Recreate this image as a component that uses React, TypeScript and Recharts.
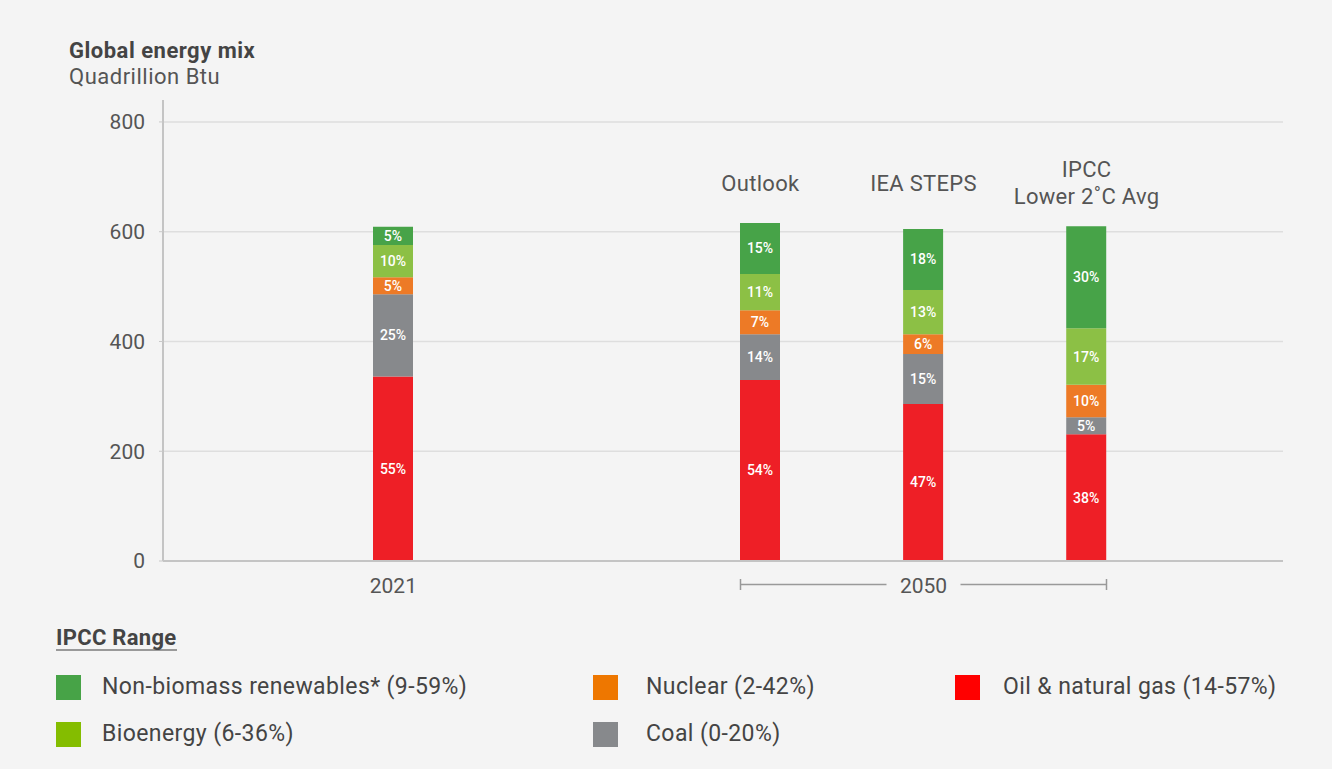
import React from "react";
import { BarChart, Bar, XAxis, YAxis, CartesianGrid, LabelList } from "recharts";

// ---- data ----
const scenarios = ["2021", "Outlook", "IEA STEPS", "IPCC Lower 2˚C Avg"];
const scenarioTitles: string[][] = [[], ["Outlook"], ["IEA STEPS"], ["IPCC", "Lower 2˚C Avg"]];
const periodLabels = ["2021", "", "2050", ""];

const oilGas = [336, 330, 286, 231];
const coal = [150, 83, 91, 31];
const nuclear = [31, 44, 36, 59];
const bioenergy = [59, 66, 81, 103];
const renewables = [33, 93, 111, 186];

const oilGasPct = ["55%", "54%", "47%", "38%"];
const coalPct = ["25%", "14%", "15%", "5%"];
const nuclearPct = ["5%", "7%", "6%", "10%"];
const bioPct = ["10%", "11%", "13%", "17%"];
const renewPct = ["5%", "15%", "18%", "30%"];

const yTicks = [0, 200, 400, 600, 800];

const legendLabels = [
  "Non-biomass renewables* (9-59%)",
  "Bioenergy (6-36%)",
  "Nuclear (2-42%)",
  "Coal (0-20%)",
  "Oil & natural gas (14-57%)",
];

// ---- styles / layout ----
const BAR_COLORS = {
  oilGas: "#ee1f26",
  coal: "#87898c",
  nuclear: "#ed7a26",
  bio: "#8cc045",
  renew: "#47a348",
};
const LEGEND_COLORS = ["#47a347", "#84bd00", "#ee7700", "#87898c", "#ff0000"];
const LEGEND_POS = [
  { left: 56, top: 675, textLeft: 102 },
  { left: 56, top: 722, textLeft: 102 },
  { left: 593, top: 675, textLeft: 646 },
  { left: 593, top: 722, textLeft: 646 },
  { left: 955, top: 675, textLeft: 1003 },
];

// slot index of each scenario on the category axis (layout only)
const SLOTS = [0, 9, 13, 17];
const SLOT_COUNT = 18;

const data = Array.from({ length: SLOT_COUNT }, (_, i) => {
  const k = SLOTS.indexOf(i);
  if (k < 0) return { slot: "", k: -1 } as any;
  return {
    slot: scenarios[k],
    k,
    oilGas: oilGas[k],
    coal: coal[k],
    nuclear: nuclear[k],
    bio: bioenergy[k],
    renew: renewables[k],
    oilGasPct: oilGasPct[k],
    coalPct: coalPct[k],
    nuclearPct: nuclearPct[k],
    bioPct: bioPct[k],
    renewPct: renewPct[k],
  };
});

const TEXT = "#555";

const XTick = (props: any) => {
  const { x, y, payload } = props;
  const d = data[payload.index];
  if (!d || d.k < 0) return <g />;
  const titles = scenarioTitles[d.k];
  const period = periodLabels[d.k];
  return (
    <g>
      {titles.length === 1 && (
        <text x={x} y={y - 370} textAnchor="middle" fill={TEXT} fontSize={22} letterSpacing={0.3}>
          {titles[0]}
        </text>
      )}
      {titles.length === 2 && (
        <text textAnchor="middle" fill={TEXT} fontSize={22} letterSpacing={0.3}>
          <tspan x={x} y={y - 384}>{titles[0]}</tspan>
          <tspan x={x} y={y - 357}>{titles[1]}</tspan>
        </text>
      )}
      {period && (
        <text x={x} y={y + 32} textAnchor="middle" fill={TEXT} fontSize={21}>
          {period}
        </text>
      )}
      {period === "2050" && (
        <g stroke="#999" strokeWidth={1.5}>
          <line x1={x - 183} x2={x - 37} y1={y + 23.5} y2={y + 23.5} />
          <line x1={x + 37} x2={x + 183} y1={y + 23.5} y2={y + 23.5} />
          <line x1={x - 183} x2={x - 183} y1={y + 18} y2={y + 29} />
          <line x1={x + 183} x2={x + 183} y1={y + 18} y2={y + 29} />
        </g>
      )}
    </g>
  );
};

const pctLabel = { fill: "#ffffff", fontSize: 14, fontWeight: 500 } as const;

export default function App() {
  return (
    <div
      style={{
        position: "absolute",
        left: 0,
        top: 0,
        width: 1332,
        height: 769,
        background: "#f4f4f4",
        fontFamily: "Roboto, sans-serif",
        color: "#444",
      }}
    >
      <div style={{ position: "absolute", left: 69, top: 40, fontSize: 22, lineHeight: "22px", fontWeight: 700, color: "#444", letterSpacing: 0.5, whiteSpace: "nowrap" }}>
        Global energy mix
      </div>
      <div style={{ position: "absolute", left: 69, top: 66, fontSize: 22, lineHeight: "22px", color: "#555", letterSpacing: 0.5, whiteSpace: "nowrap" }}>
        Quadrillion Btu
      </div>

      <div style={{ position: "absolute", left: 0, top: 0 }}>
        <BarChart
          width={1332}
          height={620}
          data={data}
          margin={{ top: 100, right: 49, left: 0, bottom: 0 }}
          barCategoryGap={0}
        >
          <CartesianGrid vertical={false} horizontalValues={yTicks} stroke="#dedede" strokeWidth={1.5} />
          <YAxis
            width={163}
            domain={[0, 840]}
            ticks={yTicks}
            tick={{ fill: TEXT, fontSize: 21 }}
            tickSize={4}
            tickMargin={14}
            tickLine={{ stroke: "#c8c8c8" }}
            axisLine={{ stroke: "#c4c4c4", strokeWidth: 2 }}
          />
          <XAxis
            dataKey="slot"
            height={59}
            interval={0}
            padding={{ left: 210, right: 176 }}
            tickSize={0}
            tickMargin={0}
            tickLine={false}
            axisLine={{ stroke: "#c4c4c4", strokeWidth: 2 }}
            tick={<XTick />}
          />
          <Bar dataKey="oilGas" stackId="a" fill={BAR_COLORS.oilGas} barSize={40} isAnimationActive={false}>
            <LabelList dataKey="oilGasPct" position="center" {...pctLabel} />
          </Bar>
          <Bar dataKey="coal" stackId="a" fill={BAR_COLORS.coal} barSize={40} isAnimationActive={false}>
            <LabelList dataKey="coalPct" position="center" {...pctLabel} />
          </Bar>
          <Bar dataKey="nuclear" stackId="a" fill={BAR_COLORS.nuclear} barSize={40} isAnimationActive={false}>
            <LabelList dataKey="nuclearPct" position="center" {...pctLabel} />
          </Bar>
          <Bar dataKey="bio" stackId="a" fill={BAR_COLORS.bio} barSize={40} isAnimationActive={false}>
            <LabelList dataKey="bioPct" position="center" {...pctLabel} />
          </Bar>
          <Bar dataKey="renew" stackId="a" fill={BAR_COLORS.renew} barSize={40} isAnimationActive={false}>
            <LabelList dataKey="renewPct" position="center" {...pctLabel} />
          </Bar>
        </BarChart>
      </div>

      <div
        style={{
          position: "absolute",
          left: 56,
          top: 627,
          fontSize: 22,
          lineHeight: "22px",
          fontWeight: 700,
          color: "#444",
          letterSpacing: 0.3,
          borderBottom: "2px solid #999",
          paddingBottom: 0,
          whiteSpace: "nowrap",
        }}
      >
        IPCC Range
      </div>
      {legendLabels.map((label, i) => (
        <React.Fragment key={label}>
          <div
            style={{
              position: "absolute",
              left: LEGEND_POS[i].left,
              top: LEGEND_POS[i].top,
              width: 25,
              height: 25,
              background: LEGEND_COLORS[i],
            }}
          />
          <div
            style={{
              position: "absolute",
              left: LEGEND_POS[i].textLeft,
              top: LEGEND_POS[i].top,
              fontSize: 23,
              lineHeight: "23px",
              letterSpacing: 0.4,
              color: "#444",
              whiteSpace: "nowrap",
            }}
          >
            {label}
          </div>
        </React.Fragment>
      ))}
    </div>
  );
}
